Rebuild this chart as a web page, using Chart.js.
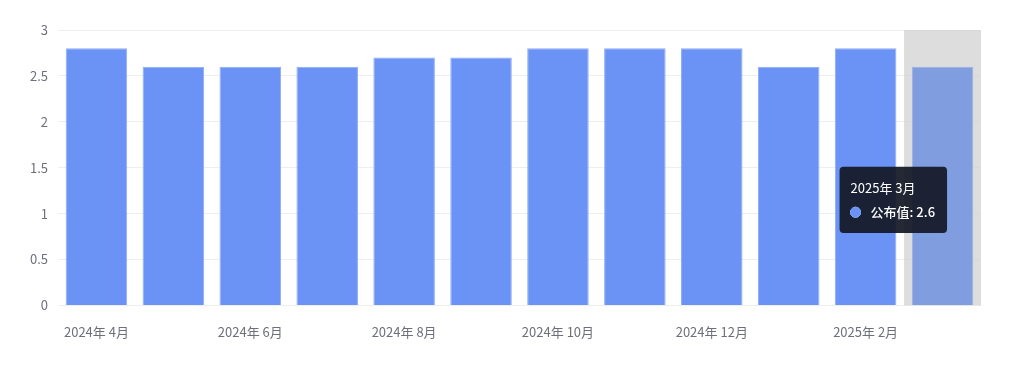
<!DOCTYPE html>
<html>
<head>
<meta charset="utf-8">
<script src="https://cdn.jsdelivr.net/npm/chart.js@4"></script>
<style>
  html, body { margin: 0; padding: 0; background: #fff; }
  #chart { display: block; }
</style>
</head>
<body>
<canvas id="chart" width="1011" height="366"></canvas>
<script>
var months = ['2024年 4月', '2024年 5月', '2024年 6月', '2024年 7月', '2024年 8月', '2024年 9月',
              '2024年 10月', '2024年 11月', '2024年 12月', '2025年 1月', '2025年 2月', '2025年 3月'];
var values = [2.8, 2.6, 2.6, 2.6, 2.7, 2.7, 2.8, 2.8, 2.8, 2.6, 2.8, 2.6];
var seriesName = '公布值';
var hoverIndex = 11;

var font = '"Noto Sans CJK SC", "Microsoft YaHei", sans-serif';

// grey band behind the hovered column
var hoverBand = {
    id: 'hoverBand',
    beforeDatasetsDraw: function(chart) {
        var el = chart.getDatasetMeta(0).data[hoverIndex];
        var area = chart.chartArea;
        var w = (area.right - area.left) / months.length;
        var c = chart.ctx;
        c.save();
        c.fillStyle = 'rgba(210,210,210,0.75)';
        c.fillRect(el.x - w / 2, area.top, w, area.bottom - area.top);
        c.restore();
    }
};

Chart.Tooltip.positioners.besideBar = function(items) {
    if (!items.length) return false;
    var el = items[0].element;
    var area = this.chart.chartArea;
    return { x: el.x + 4.5, y: area.top + (area.bottom - area.top) * 0.617, xAlign: 'right', yAlign: 'center' };
};

var ctx = document.getElementById('chart').getContext('2d');
var chart = new Chart(ctx, {
    type: 'bar',
    data: {
        labels: months,
        datasets: [{
            label: seriesName,
            data: values,
            backgroundColor: '#6b92f5',
            borderColor: '#8eacf7',
            borderWidth: 1,
            hoverBackgroundColor: '#809ddf',
            hoverBorderColor: '#9bb2e6',
            barPercentage: 0.8,
            categoryPercentage: 1.0
        }]
    },
    options: {
        responsive: false,
        animation: false,
        layout: { padding: { left: 10, right: 30, top: 30, bottom: 15 } },
        plugins: {
            legend: { display: false },
            tooltip: {
                enabled: true,
                position: 'besideBar',
                backgroundColor: 'rgba(20,25,38,0.93)',
                titleColor: '#fff',
                bodyColor: '#fff',
                titleFont: { family: font, size: 13, weight: 'normal' },
                bodyFont: { family: font, size: 13, weight: '500' },
                padding: { left: 11, right: 12, top: 13, bottom: 13 },
                titleMarginBottom: 9,
                caretSize: 0,
                caretPadding: 0,
                cornerRadius: 4,
                boxWidth: 10,
                boxHeight: 10,
                boxPadding: 8,
                usePointStyle: true,
                callbacks: {
                    labelColor: function() {
                        return { borderColor: '#6b92f5', backgroundColor: '#6b92f5' };
                    },
                    labelPointStyle: function() {
                        return { pointStyle: 'circle', rotation: 0 };
                    }
                }
            }
        },
        scales: {
            x: {
                grid: { display: false },
                border: { display: false },
                ticks: {
                    autoSkip: false,
                    maxRotation: 0,
                    color: '#6e7079',
                    font: { family: font, size: 13 },
                    padding: 11,
                    callback: function(v, i) {
                        return i % 2 === 0 ? months[i] : '';
                    }
                }
            },
            y: {
                min: 0,
                max: 3,
                afterFit: function(scale) { scale.width = 48; },
                grid: { color: '#eeeeee', drawTicks: false },
                border: { display: false },
                ticks: {
                    stepSize: 0.5,
                    color: '#6e7079',
                    font: { family: font, size: 13 },
                    padding: 10,
                    callback: function(v) { return String(v); }
                }
            }
        }
    },
    plugins: [hoverBand]
});

chart.setActiveElements([{ datasetIndex: 0, index: hoverIndex }]);
chart.tooltip.setActiveElements([{ datasetIndex: 0, index: hoverIndex }], { x: 0, y: 0 });
chart.update();
</script>
</body>
</html>
